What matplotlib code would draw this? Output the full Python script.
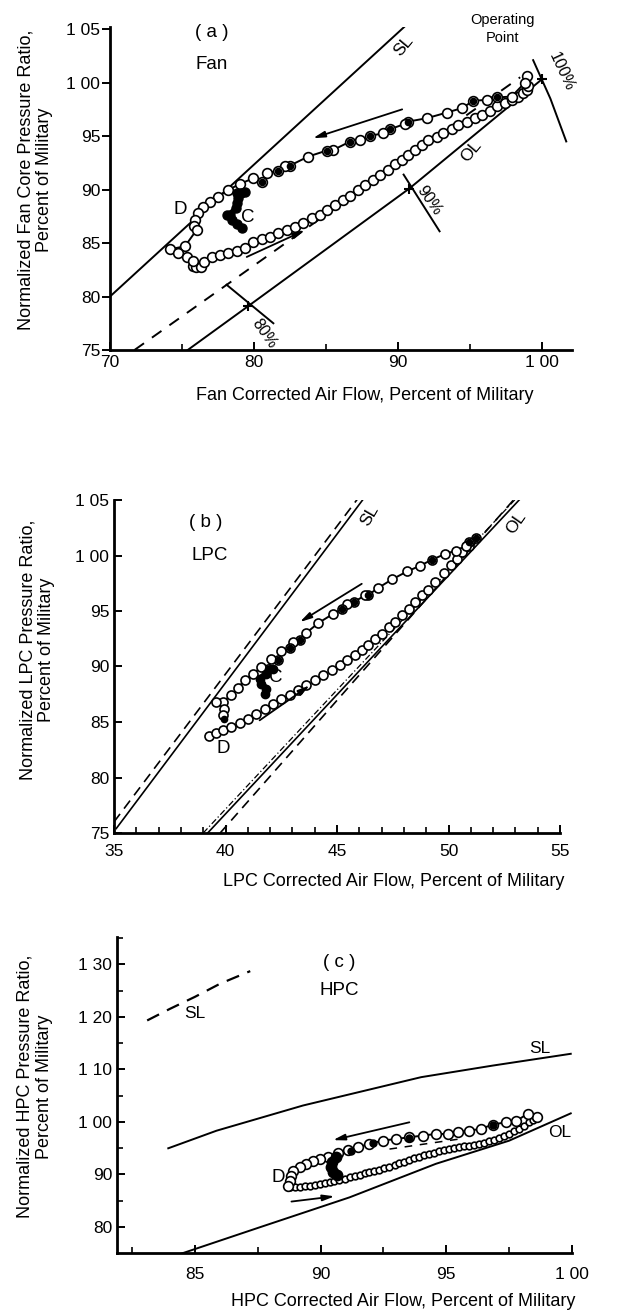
import matplotlib
matplotlib.use("Agg")
import matplotlib.pyplot as plt
import numpy as np

plt.rcParams['font.family'] = ['Liberation Sans', 'DejaVu Sans']

# ---------------- Panel (a) Fan ----------------
a_sl_x = [70.0, 90.6]
a_sl_y = [80.0, 105.4]
a_dash_x = [71.7, 98.5]
a_dash_y = [75.0, 100.5]
a_ol_x = [75.4, 79.6, 90.8, 100.0]
a_ol_y = [75.0, 79.1, 90.1, 100.3]
a_sp80_x = [78.1, 81.35]
a_sp80_y = [81.1, 77.5]
a_sp90_x = [90.4, 92.9]
a_sp90_y = [91.4, 86.1]
a_sp100_x = [99.4, 100.6, 101.7]
a_sp100_y = [102.1, 98.5, 94.5]

a_up_x = [98.96, 98.84, 97.91, 96.87, 96.18, 95.25, 94.44, 93.40, 92.01, 90.73, 90.50, 89.46, 89.00,
          88.07, 87.37, 86.68, 85.52, 85.06, 83.78, 82.51, 82.16, 81.70, 80.89, 80.54, 79.96, 79.03,
          78.22, 77.53, 76.95, 76.49, 76.14, 75.91, 75.84, 76.02, 75.21, 74.17, 74.75, 75.33, 75.79]
a_up_y = [100.63, 100.01, 98.70, 98.61, 98.39, 98.30, 97.61, 97.20, 96.67, 96.36, 96.14, 95.65, 95.27,
          95.02, 94.65, 94.49, 93.71, 93.65, 93.09, 92.25, 92.25, 91.69, 91.59, 90.75, 91.06, 90.53,
          89.97, 89.35, 88.88, 88.41, 87.79, 87.16, 86.60, 86.23, 84.70, 84.42, 84.11, 83.70, 83.35]
a_fill_x = [96.87, 95.25, 90.73, 89.46, 88.07, 86.68, 85.06, 82.51, 81.70, 80.54]
a_fill_y = [98.61, 98.30, 96.36, 95.65, 95.02, 94.49, 93.65, 92.25, 91.69, 90.75]
a_low_x = [75.8, 76.0, 76.3, 76.5, 77.07, 77.64, 78.22, 78.80, 79.38, 79.96, 80.54, 81.12, 81.70, 82.28,
           82.86, 83.43, 84.01, 84.59, 85.06, 85.64, 86.21, 86.68, 87.26, 87.72, 88.30, 88.76, 89.34,
           89.81, 90.27, 90.73, 91.20, 91.66, 92.12, 92.70, 93.16, 93.74, 94.21, 94.79, 95.36, 95.83,
           96.41, 96.87, 97.45, 97.91, 98.38, 98.72, 98.96, 99.07]
a_low_y = [82.9, 82.8, 82.8, 83.2, 83.73, 83.89, 84.05, 84.30, 84.51, 85.14, 85.39, 85.60, 85.92, 86.23,
           86.54, 86.92, 87.32, 87.63, 88.10, 88.57, 89.04, 89.44, 89.97, 90.44, 90.91, 91.37, 91.84,
           92.37, 92.78, 93.24, 93.71, 94.18, 94.65, 94.96, 95.27, 95.65, 96.05, 96.36, 96.67, 96.99,
           97.39, 97.77, 98.08, 98.39, 98.70, 99.01, 99.32, 99.70]
a_c_x = [79.38, 79.1, 78.80, 78.92, 78.80, 78.76, 78.34, 78.1, 78.46, 78.80, 79.15]
a_c_y = [89.75, 89.7, 89.66, 89.19, 88.72, 88.26, 87.63, 87.6, 87.16, 86.79, 86.45]

# ---------------- Panel (b) LPC ----------------
b_sl_x = [35.1, 46.26]
b_sl_y = [75.4, 105.3]
b_sld_x = [35.0, 45.96]
b_sld_y = [76.0, 105.2]
b_ol_x = [39.2, 53.4]
b_ol_y = [75.0, 105.5]
b_old_x = [39.76, 53.09]
b_old_y = [75.0, 105.4]
b_oldd_x = [39.0, 53.2]
b_oldd_y = [75.0, 105.5]

b_up_x = [51.22, 50.92, 50.77, 50.32, 49.86, 49.26, 48.74, 48.14, 47.46, 46.86, 46.41, 46.26, 45.74,
          45.44, 45.21, 44.83, 44.16, 43.63, 43.33, 43.03, 42.88, 42.51, 42.36, 42.06, 41.91, 41.61,
          41.23, 40.86, 40.56, 40.26, 39.88, 39.58, 39.95, 39.88]
b_up_y = [101.55, 101.19, 100.83, 100.44, 100.14, 99.63, 99.09, 98.56, 97.84, 97.09, 96.46, 96.40, 95.80,
          95.65, 95.14, 94.75, 93.91, 93.04, 92.35, 92.20, 91.66, 91.39, 90.55, 90.64, 89.80, 89.95,
          89.35, 88.75, 88.09, 87.46, 86.80, 86.80, 86.14, 85.61]
b_fill_x = [51.22, 50.92, 49.26, 46.41, 45.74, 45.21, 43.33, 42.88, 42.36, 41.91, 39.95]
b_fill_y = [101.55, 101.19, 99.63, 96.46, 95.80, 95.14, 92.35, 91.66, 90.55, 89.80, 85.30]
b_low_x = [39.28, 39.58, 39.88, 40.26, 40.63, 41.01, 41.38, 41.76, 42.13, 42.51, 42.88, 43.26, 43.63,
           44.01, 44.38, 44.76, 45.14, 45.44, 45.81, 46.11, 46.41, 46.71, 47.01, 47.31, 47.61, 47.91,
           48.21, 48.51, 48.81, 49.10, 49.41, 49.79, 50.09, 50.39, 50.62, 50.92]
b_low_y = [83.75, 84.05, 84.26, 84.56, 84.95, 85.31, 85.76, 86.15, 86.59, 87.04, 87.46, 87.85, 88.30,
           88.75, 89.20, 89.65, 90.10, 90.55, 91.00, 91.45, 91.96, 92.50, 92.95, 93.55, 94.00, 94.60,
           95.20, 95.80, 96.40, 96.90, 97.60, 98.40, 99.10, 99.70, 100.30, 100.90]
b_c_x = [42.13, 41.8, 41.53, 41.61, 41.83, 41.76]
b_c_y = [89.80, 89.3, 88.90, 88.45, 88.00, 87.55]

# ---------------- Panel (c) HPC ----------------
c_sld_x = [83.1, 84.0, 85.0, 86.0, 87.2]
c_sld_y = [119.3, 121.5, 123.8, 126.3, 128.7]
c_sl_x = [83.94, 85.86, 89.30, 94.0, 96.84, 99.95]
c_sl_y = [94.95, 98.3, 103.1, 108.5, 110.7, 112.95]
c_ol_x = [84.47, 87.58, 91.15, 94.59, 97.5, 99.95]
c_ol_y = [74.9, 79.9, 85.6, 92.0, 96.4, 101.6]
c_dash_x = [92.74, 95.5]
c_dash_y = [94.8, 96.7]

c_up_x = [98.62, 98.23, 97.76, 97.37, 96.84, 96.38, 95.91, 95.45, 95.05, 94.59, 94.06, 93.53, 93.0,
          92.47, 91.94, 91.48, 91.08, 90.69, 90.29, 89.96, 89.70, 89.43, 89.17, 88.90, 88.84, 88.77, 88.70]
c_up_y = [100.87, 101.5, 100.1, 99.9, 99.47, 98.64, 98.32, 98.0, 97.68, 97.68, 97.37, 97.05, 96.73,
          96.41, 95.78, 95.14, 94.63, 94.0, 93.36, 92.91, 92.47, 91.96, 91.45, 90.69, 89.73, 88.78, 87.82]
c_fill_x = [96.84, 93.53, 92.08, 91.22]
c_fill_y = [99.47, 96.92, 95.9, 94.5]
c_low_x = [88.77, 88.97, 89.17, 89.37, 89.56, 89.76, 89.96, 90.16, 90.36, 90.55, 90.75, 90.95, 91.15,
           91.35, 91.55, 91.75, 91.94, 92.14, 92.34, 92.54, 92.74, 92.94, 93.13, 93.33, 93.53, 93.73,
           93.93, 94.13, 94.33, 94.53, 94.72, 94.92, 95.12, 95.32, 95.52, 95.72, 95.91, 96.11, 96.31,
           96.51, 96.71, 96.91, 97.10, 97.30, 97.50, 97.70, 97.90, 98.10, 98.29, 98.45, 98.56]
c_low_y = [87.5, 87.55, 87.63, 87.72, 87.82, 87.98, 88.14, 88.30, 88.46, 88.68, 88.9, 89.15, 89.41,
           89.66, 89.92, 90.15, 90.37, 90.59, 90.81, 91.13, 91.45, 91.77, 92.09, 92.40, 92.72, 93.04,
           93.36, 93.60, 93.87, 94.12, 94.38, 94.60, 94.82, 94.98, 95.14, 95.30, 95.46, 95.62, 95.78,
           96.03, 96.29, 96.60, 96.92, 97.30, 97.68, 98.16, 98.64, 99.27, 99.91, 100.3, 100.7]
c_c_x = [90.6, 90.45, 90.4, 90.5, 90.65]
c_c_y = [93.2, 92.3, 91.4, 90.5, 89.9]

W, H = 642, 1315
fig = plt.figure(figsize=(W / 100, H / 100), dpi=100)

TICK_FS = 12.5
LAB_FS = 13
TXT_FS = 13.5


def make_ax(l, r, t, b):
    ax = fig.add_axes([l / W, 1 - b / H, (r - l) / W, (b - t) / H])
    for s in ('top', 'right'):
        ax.spines[s].set_visible(False)
    for s in ('left', 'bottom'):
        ax.spines[s].set_linewidth(2.0)
    ax.tick_params(labelsize=TICK_FS, width=1.4, length=6)
    ax.tick_params(which='minor', width=1.2, length=4)
    return ax


def arrow(ax, x0, y0, x1, y1):
    ax.annotate('', xy=(x1, y1), xytext=(x0, y0),
                arrowprops=dict(arrowstyle='-|>,head_length=0.7,head_width=0.18', color='black', lw=1.3,
                                shrinkA=0, shrinkB=0))


OPEN = dict(marker='o', mfc='white', mec='black', mew=1.2, ls='none')
FILL = dict(marker='o', mfc='black', mec='black', ls='none')
LW = 1.4

# ----- (a)
ax = make_ax(110, 572, 27, 350)
ax.set_xlim(70, 102.1)
ax.set_ylim(75, 105.2)
ax.plot(a_sl_x, a_sl_y, color='black', lw=LW)
ax.plot(a_dash_x, a_dash_y, color='black', lw=LW, ls=(0, (6, 5)))
ax.plot(a_ol_x, a_ol_y, color='black', lw=LW)
for sx, sy in ((a_sp80_x, a_sp80_y), (a_sp90_x, a_sp90_y), (a_sp100_x, a_sp100_y)):
    ax.plot(sx, sy, color='black', lw=LW)
ax.plot([79.6, 90.8, 100.0], [79.1, 90.1, 100.3], marker='+', color='black', ms=7, mew=1.5, ls='none')
ax.plot(a_low_x, a_low_y, ms=7, **OPEN)
ax.plot(a_up_x, a_up_y, color='black', lw=LW, marker='o', mfc='white', mec='black', mew=1.2, ms=7)
ax.plot(a_fill_x, a_fill_y, ms=4.5, **FILL)
ax.plot(a_c_x, a_c_y, color='black', lw=4.5, marker='o', mfc='black', mec='black', ms=6.5)
ax.text(80.7, 76.5, '80%', rotation=-55, fontsize=11.5, ha='center', va='center')
ax.text(92.2, 89.0, '90%', rotation=-55, fontsize=11.5, ha='center', va='center')
ax.text(101.4, 101.0, '100%', rotation=-65, fontsize=11.5, ha='center', va='center')
ax.text(90.4, 103.4, 'SL', rotation=50, fontsize=12.5, ha='center', va='center')
ax.text(95.1, 93.6, 'OL', rotation=50, fontsize=12.5, ha='center', va='center')
ax.text(97.3, 105.0, 'Operating\nPoint', fontsize=10.5, ha='center', va='center', linespacing=1.4)
ax.text(77.1, 104.7, '( a )', fontsize=TXT_FS, ha='center', va='center')
ax.text(77.1, 101.7, 'Fan', fontsize=TXT_FS, ha='center', va='center')
ax.text(74.9, 88.1, 'D', fontsize=TXT_FS, ha='center', va='center')
ax.text(79.6, 87.4, 'C', fontsize=TXT_FS, ha='center', va='center')
arrow(ax, 90.3, 97.5, 84.1, 94.8)
arrow(ax, 79.5, 83.7, 83.55, 86.2)
ax.set_xticks([70, 80, 90, 100])
ax.set_xticklabels(['70', '80', '90', '1 00'])
ax.set_xticks([75, 85, 95], minor=True)
ax.set_yticks([75, 80, 85, 90, 95, 100, 105])
ax.set_yticklabels(['75', '80', '85', '90', '95', '1 00', '1 05'])
ax.tick_params(axis='x', which='both', direction='in')
ax.tick_params(axis='y', direction='out', pad=1)
ax.set_xlabel('Fan Corrected Air Flow, Percent of Military', fontsize=LAB_FS)
ax.xaxis.set_label_coords(0.552, -0.115)
ax.set_ylabel('Normalized Fan Core Pressure Ratio,\nPercent of Military', fontsize=LAB_FS, linespacing=1.15)
ax.yaxis.set_label_coords(-0.123, 0.526)

# ----- (b)
ax = make_ax(114, 560, 500, 833)
ax.set_xlim(35, 55)
ax.set_ylim(75, 105)
ax.plot(b_sl_x, b_sl_y, color='black', lw=1.2)
ax.plot(b_sld_x, b_sld_y, color='black', lw=1.2, ls=(0, (6, 4)))
ax.plot(b_ol_x, b_ol_y, color='black', lw=1.2)
ax.plot(b_old_x, b_old_y, color='black', lw=1.2, ls=(0, (6, 4)))
ax.plot(b_oldd_x, b_oldd_y, color='black', lw=0.9, ls=(0, (5, 2, 1, 2)))
ax.plot(b_low_x, b_low_y, ms=6.5, **OPEN)
ax.plot(b_up_x, b_up_y, color='black', lw=LW, marker='o', mfc='white', mec='black', mew=1.2, ms=6.5)
ax.plot(b_fill_x, b_fill_y, ms=4.5, **FILL)
ax.plot(b_c_x, b_c_y, color='black', lw=4.5, marker='o', mfc='black', mec='black', ms=6)
ax.text(46.45, 103.6, 'SL', rotation=60, fontsize=12.5, ha='center', va='center')
ax.text(53.05, 102.9, 'OL', rotation=55, fontsize=12.5, ha='center', va='center')
ax.text(39.13, 103.0, '( b )', fontsize=TXT_FS, ha='center', va='center')
ax.text(39.28, 100.0, 'LPC', fontsize=TXT_FS, ha='center', va='center')
ax.text(39.88, 82.6, 'D', fontsize=TXT_FS, ha='center', va='center')
ax.text(42.25, 89.05, 'C', fontsize=TXT_FS, ha='center', va='center')
arrow(ax, 46.11, 97.45, 43.33, 94.0)
arrow(ax, 41.53, 85.15, 43.78, 88.3)
ax.set_xticks([35, 40, 45, 50, 55])
ax.set_xticks(np.arange(36, 55, 1), minor=True)
ax.set_yticks([75, 80, 85, 90, 95, 100, 105])
ax.set_yticklabels(['75', '80', '85', '90', '95', '1 00', '1 05'])
ax.tick_params(axis='both', which='both', direction='in')
ax.tick_params(axis='x', pad=8)
ax.set_xlabel('LPC Corrected Air Flow, Percent of Military', fontsize=LAB_FS)
ax.xaxis.set_label_coords(0.626, -0.120)
ax.set_ylabel('Normalized LPC Pressure Ratio,\nPercent of Military', fontsize=LAB_FS, linespacing=1.15)
ax.yaxis.set_label_coords(-0.132, 0.55)

# ----- (c)
ax = make_ax(117, 572, 937, 1253)
ax.set_xlim(81.9, 100)
ax.set_ylim(75, 135.2)
ax.plot(c_sld_x, c_sld_y, color='black', lw=1.6, ls=(0, (6, 4)))
ax.plot(c_sl_x, c_sl_y, color='black', lw=LW)
ax.plot(c_ol_x, c_ol_y, color='black', lw=LW)
ax.plot(c_dash_x, c_dash_y, color='black', lw=1.1, ls=(0, (5, 5)))
ax.plot(c_low_x, c_low_y, ms=4.8, **OPEN)
ax.plot(c_up_x, c_up_y, color='black', lw=LW, marker='o', mfc='white', mec='black', mew=1.2, ms=7)
ax.plot(c_fill_x, c_fill_y, ms=5, **FILL)
ax.plot(c_c_x, c_c_y, color='black', lw=5.5, marker='o', mfc='black', mec='black', ms=7.5)
ax.text(85.0, 120.6, 'SL', fontsize=12.5, ha='center', va='center')
ax.text(98.7, 113.9, 'SL', fontsize=12.5, ha='center', va='center')
ax.text(99.5, 98.0, 'OL', fontsize=12.5, ha='center', va='center')
ax.text(90.75, 130.4, '( c )', fontsize=TXT_FS, ha='center', va='center')
ax.text(90.75, 125.0, 'HPC', fontsize=TXT_FS, ha='center', va='center')
ax.text(88.3, 89.4, 'D', fontsize=TXT_FS, ha='center', va='center')
arrow(ax, 93.53, 99.9, 90.49, 96.5)
arrow(ax, 88.84, 84.8, 90.56, 85.8)
ax.set_xticks([85, 90, 95, 100])
ax.set_xticklabels(['85', '90', '95', '1 00'])
ax.set_xticks([82.5, 87.5, 92.5, 97.5], minor=True)
ax.set_yticks([80, 90, 100, 110, 120, 130])
ax.set_yticklabels(['80', '90', '1 00', '1 10', '1 20', '1 30'])
ax.set_yticks([85, 95, 105, 115, 125, 135], minor=True)
ax.tick_params(axis='both', which='both', direction='in')
ax.tick_params(axis='x', pad=10)
ax.set_xlabel('HPC Corrected Air Flow, Percent of Military', fontsize=LAB_FS)
ax.xaxis.set_label_coords(0.629, -0.1275)
ax.set_ylabel('Normalized HPC Pressure Ratio,\nPercent of Military', fontsize=LAB_FS, linespacing=1.15)
ax.yaxis.set_label_coords(-0.141, 0.527)

fig.savefig('out.png', dpi=100)
